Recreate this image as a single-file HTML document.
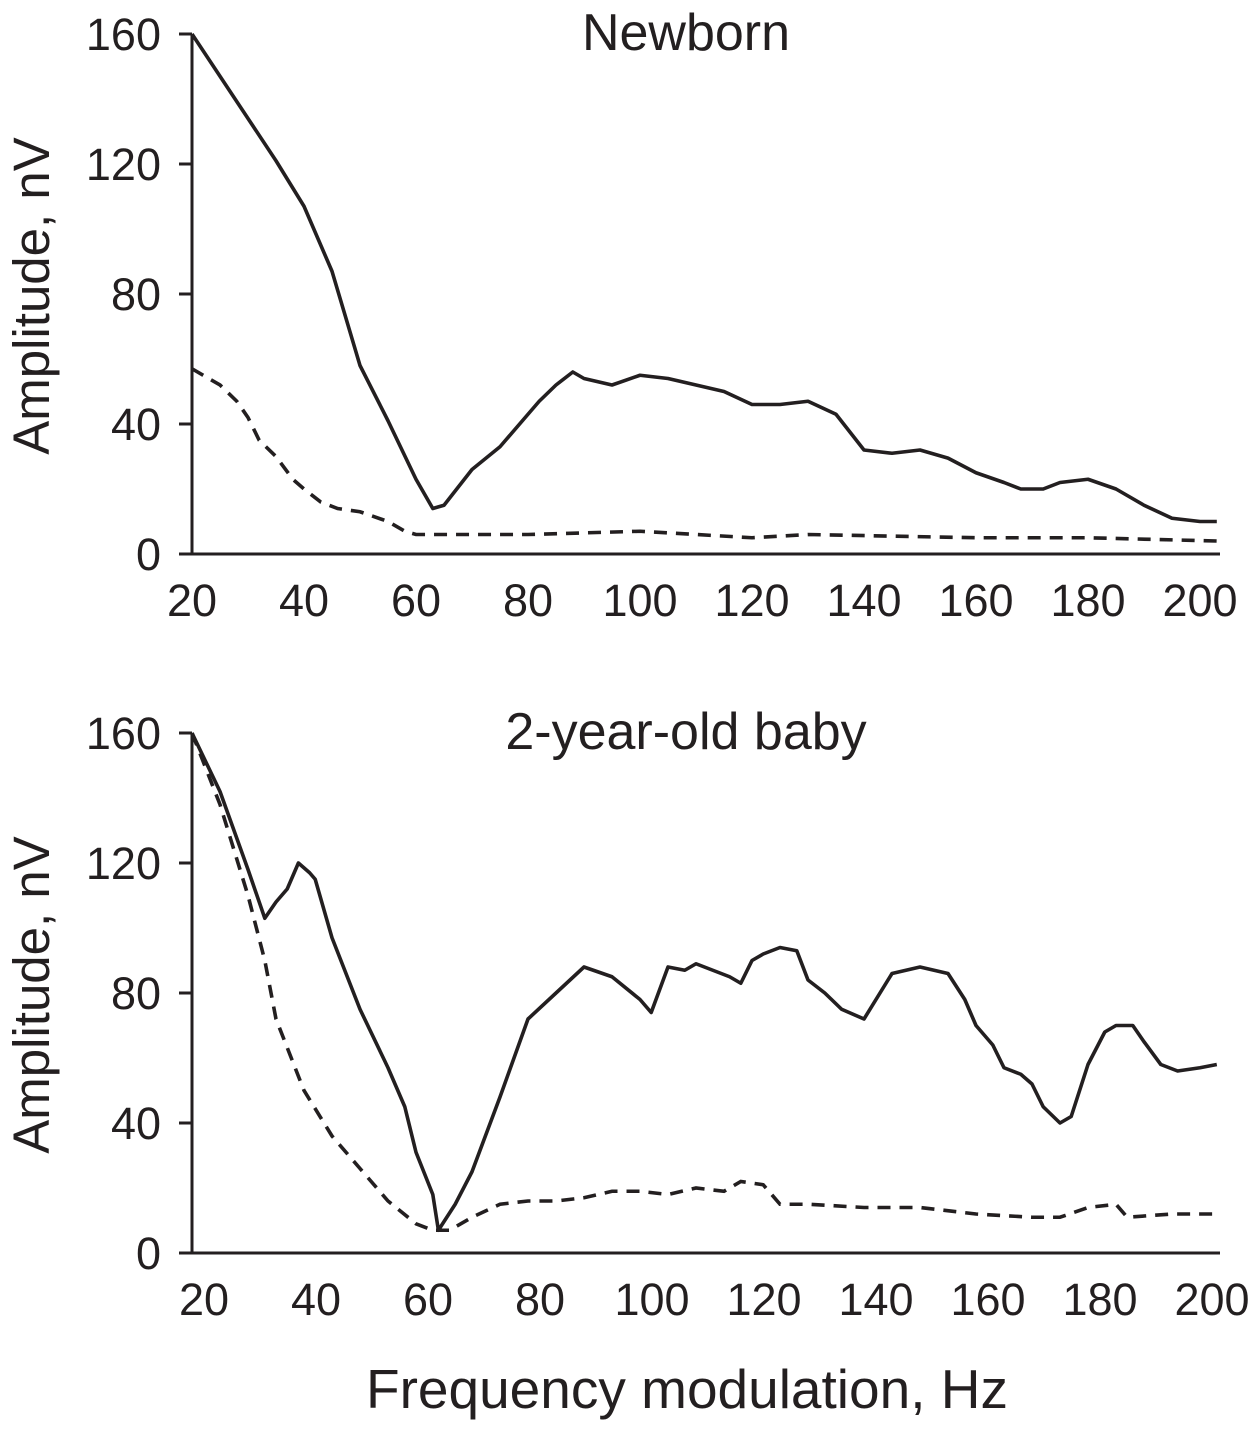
<!DOCTYPE html>
<html><head><meta charset="utf-8"><style>
html,body{margin:0;padding:0;background:#fff}
svg{display:block;font-family:"Liberation Sans",Arial,sans-serif;fill:#231f20}
</style></head><body>
<svg id="chart" width="1254" height="1436" viewBox="0 0 1254 1436" xmlns="http://www.w3.org/2000/svg"></svg>
<script>
const xTicks=[20,40,60,80,100,120,140,160,180,200];
const yTicks=[0,40,80,120,160];
const nbSolidX=[20,25,30,35,40,45,50,55,60,63,65,70,75,80,82,85,88,90,95,100,105,110,115,120,125,130,135,140,145,150,155,160,165,168,172,175,180,185,190,195,200,203];
const nbSolidY=[160,147,134,121,107,87,58,41,23,14,15,26,33,43,47,52,56,54,52,55,54,52,50,46,46,47,43,32,31,32,29.5,25,22,20,20,22,23,20,15,11,10,10];
const nbDashX=[20,25,28,30,32,35,38,40,43,46,50,55,58,60,80,100,110,120,130,160,180,203];
const nbDashY=[57,52,47,42,35,30,23,20,16,14,13,10,7,6,6,7,6,5,6,5,5,4];
const byrSolidX=[20,25,30,33,35,37,39,41,42,45,50,55,58,60,63,64,67,70,75,80,85,90,95,100,102,105,108,110,113,116,118,120,122,125,128,130,133,136,140,145,150,155,158,160,163,165,168,170,172,175,177,180,183,185,188,190,193,196,200,203];
const byrSolidY=[160,142,118,103,108,112,120,117,115,97,75,57,45,31,18,7,15,25,48,72,80,88,85,78,74,88,87,89,87,85,83,90,92,94,93,84,80,75,72,86,88,86,78,70,64,57,55,52,45,40,42,58,68,70,70,65,58,56,57,58];
const byrDashX=[20,25,30,33,35,40,45,50,55,60,63,66,70,75,80,85,90,95,100,105,110,115,118,122,125,130,140,150,160,170,175,180,185,187,195,203];
const byrDashY=[160,138,110,90,72,50,36,26,16,9,7,7,11,15,16,16,17,19,19,18,20,19,22,21,15,15,14,14,12,11,11,14,15,11,12,12];

const svg=document.getElementById('chart');
const NS='http://www.w3.org/2000/svg';
function mk(tag,attrs,parent){const e=document.createElementNS(NS,tag);for(const k in attrs)e.setAttribute(k,attrs[k]);(parent||svg).appendChild(e);return e;}
const sx=v=>192+(v-20)*5.6;

function panel(top,title,labelOffset,sX,sY,dX,dY,key){
  const zero=top+520;
  const sy=v=>zero-v*3.25;
  const g=mk('g',{});
  
  
  const ya=mk('line',{x1:192,y1:sy(160),x2:192,y2:zero,stroke:'#231f20','stroke-width':3},g);
  
  const xa=mk('line',{x1:179,y1:zero,x2:1220,y2:zero,stroke:'#231f20','stroke-width':3},g);
  
  yTicks.forEach(v=>{
    const t=mk('line',{x1:179,y1:sy(v),x2:192,y2:sy(v),stroke:'#231f20','stroke-width':3},g);
    
    const l=mk('text',{x:161,y:sy(v)+16,'text-anchor':'end','font-size':45},g);
    l.textContent=v;
    
  });
  xTicks.forEach(v=>{
    const l=mk('text',{x:sx(v)+labelOffset,y:zero+62,'text-anchor':'middle','font-size':45},g);
    l.textContent=v;
    
  });
  const tt=mk('text',{x:686,y:top+16,'text-anchor':'middle','font-size':52},g);
  tt.textContent=title;
  
  const yt=mk('text',{x:0,y:0,'text-anchor':'middle','font-size':51,transform:`translate(49,${top+262}) rotate(-90)`},g);
  yt.textContent='Amplitude, nV';
  
  const s=mk('polyline',{points:sX.map((x,i)=>sx(x)+','+sy(sY[i])).join(' '),fill:'none',stroke:'#231f20','stroke-width':3.6,'stroke-linejoin':'round'},g);
  
  const d=mk('polyline',{points:dX.map((x,i)=>sx(x)+','+sy(dY[i])).join(' '),fill:'none',stroke:'#231f20','stroke-width':3.6,'stroke-dasharray':'13,9'},g);
  
}
panel(34,'Newborn',0,nbSolidX,nbSolidY,nbDashX,nbDashY,'newborn');
panel(733,'2-year-old baby',12,byrSolidX,byrSolidY,byrDashX,byrDashY,'two-year');
const xt=mk('text',{x:687,y:1408,'text-anchor':'middle','font-size':55});
xt.textContent='Frequency modulation, Hz';


</script>
</body></html>
